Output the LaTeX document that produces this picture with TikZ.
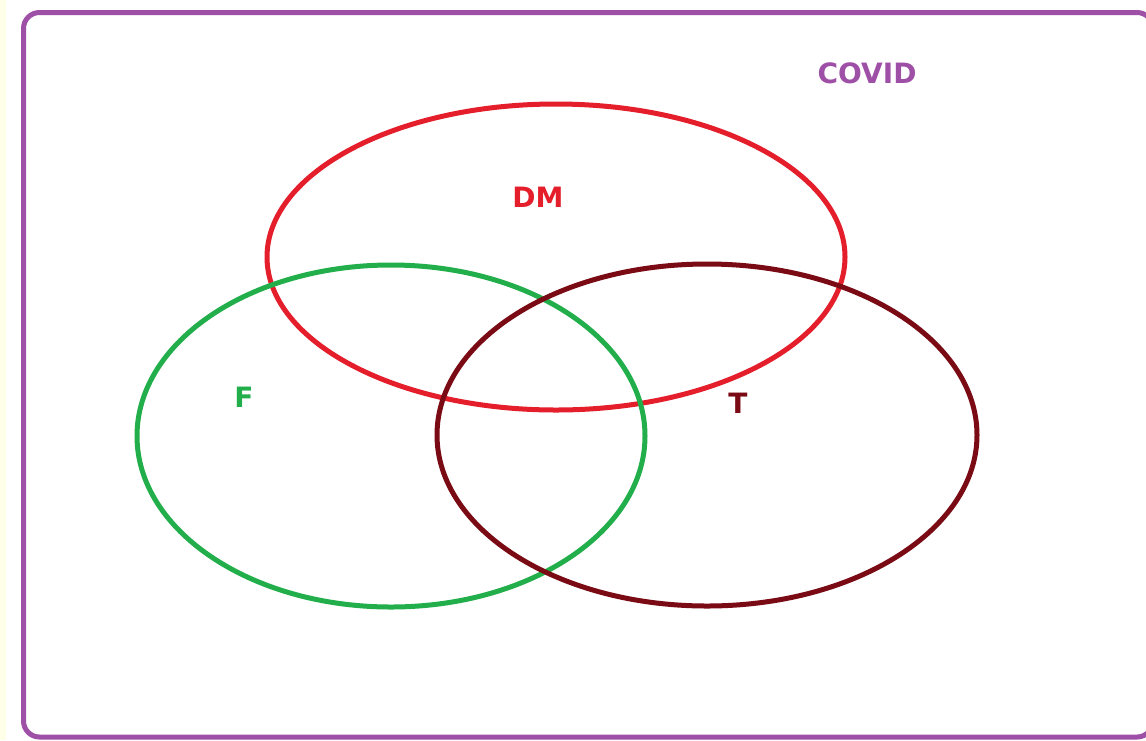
\documentclass[tikz,border=0pt]{standalone}
\usepackage{fontspec}
\newfontfamily\vennfont{DejaVu Sans}
\usepackage{tikz}
\usetikzlibrary{calc}
\definecolor{covidpurple}{HTML}{9E4FA6}
\definecolor{dmred}{HTML}{E41E2B}
\definecolor{fgreen}{HTML}{22AE4B}
\definecolor{tdark}{HTML}{7A0B14}
\tikzset{
    setline/.style={line width=5pt},
    setlabel/.style={font=\vennfont\bfseries\fontsize{28}{32}\selectfont}
}

\begin{document}
\begin{tikzpicture}[x=1pt,y=-1pt]
            \useasboundingbox (0,0) rectangle (1146,740);
            \fill[white] (0,0) rectangle (1146,740);
            \fill[yellow!10] (0,0) rectangle (6,740);
            \begin{scope}
            \clip (0,0) rectangle (1146,740);
            \draw[covidpurple,line width=5pt,rounded corners=16pt] (23.5,12.5) rectangle (1153,737);
            \end{scope}
            \draw[setline,dmred] (556,257) ellipse [x radius=289pt, y radius=153pt];
            \draw[setline,fgreen] (391,436) ellipse [x radius=254pt, y radius=171pt];
            \draw[setline,tdark] (707,435) ellipse [x radius=270pt, y radius=171pt];
            \node[setlabel,text=covidpurple] (covid) at (867,73) {COVID};
            \node[setlabel,text=dmred] (dm) at (538,197) {DM};
            \node[setlabel,text=fgreen] (f) at (244,397) {F};
            \node[setlabel,text=tdark] (t) at (738,403) {T};
        \end{tikzpicture}
\end{document}
